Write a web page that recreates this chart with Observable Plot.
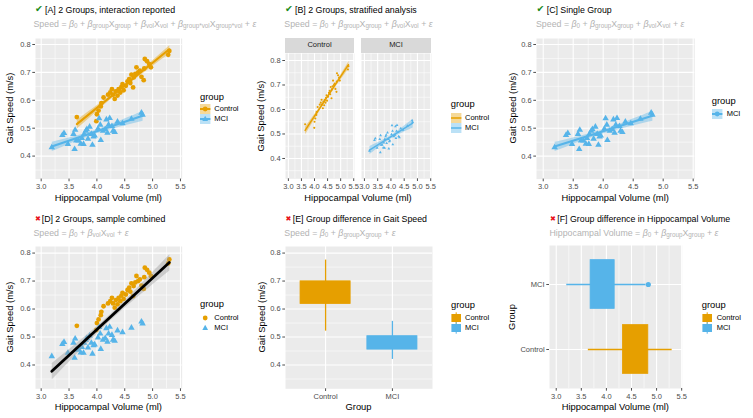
<!DOCTYPE html>
<html><head><meta charset="utf-8">
<script src="https://cdn.jsdelivr.net/npm/d3@7"></script>
<script src="https://cdn.jsdelivr.net/npm/@observablehq/plot@0.6"></script>
<style>
body{margin:0;background:#fff;font-family:"Liberation Sans",Arial,sans-serif;}
#root{position:relative;width:753px;height:418px;overflow:hidden;background:#fff;}
.abs{position:absolute;white-space:nowrap;line-height:1;}
.sub sub{font-size:0.72em;vertical-align:-0.3em;line-height:0;}
svg.p{position:absolute;overflow:visible;}
</style></head><body><div id="root"></div>
<script>
// ---------------- data ----------------
const groups = ["Control", "MCI"];
const colors = ["#E69F00", "#56B4E9"];

const controlVol   = [3.64,3.99,4.00,4.03,4.07,4.08,4.12,4.20,4.24,4.27,4.29,4.32,4.34,4.37,4.39,4.42,4.44,4.46,4.48,4.52,4.55,4.58,4.60,4.62,4.65,4.66,4.69,4.71,4.74,4.77,4.80,4.84,4.85,4.86,4.90,4.94,4.97,5.28,5.30];
const controlSpeed = [0.540,0.525,0.550,0.563,0.578,0.590,0.610,0.620,0.628,0.640,0.620,0.605,0.632,0.617,0.640,0.628,0.648,0.658,0.636,0.652,0.668,0.676,0.662,0.692,0.646,0.682,0.695,0.718,0.700,0.706,0.684,0.672,0.714,0.748,0.740,0.730,0.718,0.763,0.777];

const mciVol   = [3.19,3.38,3.41,3.48,3.58,3.61,3.60,3.63,3.67,3.71,3.73,3.76,3.77,3.80,3.82,3.84,3.87,3.90,3.92,3.94,3.96,4.02,4.04,4.06,4.07,4.11,4.15,4.17,4.19,4.21,4.23,4.27,4.29,4.32,4.37,4.46,4.62,4.80,4.82];
const mciSpeed = [0.431,0.475,0.482,0.443,0.479,0.494,0.425,0.455,0.455,0.444,0.464,0.443,0.479,0.490,0.496,0.462,0.505,0.479,0.440,0.470,0.473,0.498,0.535,0.512,0.457,0.490,0.496,0.531,0.483,0.512,0.536,0.507,0.490,0.486,0.523,0.517,0.533,0.555,0.548];

// box-plot summaries (Control, MCI)
const speedLo = [0.521, 0.420], speedQ1 = [0.618, 0.455], speedQ3 = [0.699, 0.503], speedHi = [0.775, 0.556];
const volLo = [3.64, 3.21], volQ1 = [4.33, 3.685], volQ3 = [4.835, 4.165], volHi = [5.31, 4.79];
const volOutlierGroup = ["MCI"], volOutlierValue = [4.835];

const volTicks = [3.0, 3.5, 4.0, 4.5, 5.0, 5.5];
const volMinor = [3.25, 3.75, 4.25, 4.75, 5.25];
const speedTicks = [0.4, 0.5, 0.6, 0.7, 0.8];
const speedMinor = [0.35, 0.45, 0.55, 0.65, 0.75];

const titles = [
  "[A] 2 Groups, interaction reported", "[B] 2 Groups, stratified analysis", "[C] Single Group",
  "[D] 2 Groups, sample combined", "[E] Group difference in Gait Speed", "[F] Group difference in Hippocampal Volume"
];

// ---------------- helpers ----------------
const root = document.getElementById("root");
const FONT = '"Liberation Sans", Arial, sans-serif';
function txt(html, x, y, {size = 8, color = "#000", anchor = "start", rotate = false, cls = "", font = null} = {}) {
  const d = document.createElement("div");
  d.className = "abs " + cls;
  d.innerHTML = html;
  d.style.left = x + "px"; d.style.top = y + "px";
  d.style.fontSize = size + "px"; d.style.color = color;
  if (font) d.style.fontFamily = font;
  const tx = anchor === "start" ? "0" : anchor === "middle" ? "-50%" : "-100%";
  d.style.transform = `translate(${tx},-50%)` + (rotate ? " rotate(-90deg)" : "");
  root.appendChild(d);
  return d;
}
const control = controlVol.map((v, i) => ({group: "Control", vol: v, speed: controlSpeed[i]}));
const mci = mciVol.map((v, i) => ({group: "MCI", vol: v, speed: mciSpeed[i]}));
const all = control.concat(mci);
const boxSpeed = groups.map((g, i) => ({group: g, pos: i + 1, lo: speedLo[i], q1: speedQ1[i], q3: speedQ3[i], hi: speedHi[i]}));
const boxVol = groups.map((g, i) => ({group: g, pos: i + 1, lo: volLo[i], q1: volQ1[i], q3: volQ3[i], hi: volHi[i]}));
const outliers = volOutlierGroup.map((g, i) => ({group: g, pos: groups.indexOf(g) + 1, vol: volOutlierValue[i]}));

const GRID = {stroke: "white", strokeOpacity: 1};
const AX = {tickSize: 2.7, tickPadding: 2.2, fontSize: 7.5, color: "#4D4D4D", label: null};
const f1 = d => d.toFixed(1);

function plotAt(box, xd, yd, marks, noY = false) {
  const ml = 40, mr = 3, mt = 3, mb = 18;
  const w = box[1] - box[0], h = box[3] - box[2];
  const svg = Plot.plot({
    width: w + ml + mr, height: h + mt + mb,
    marginLeft: ml, marginRight: mr, marginTop: mt, marginBottom: mb,
    x: {domain: xd}, y: noY ? {domain: yd, axis: null} : {domain: yd},
    color: {domain: groups, range: colors},
    symbol: {domain: groups, range: ["circle", "triangle"]},
    style: {background: "transparent", fontFamily: FONT, overflow: "visible"},
    marks
  });
  svg.classList.add("p");
  svg.style.left = (box[0] - ml) + "px";
  svg.style.top = (box[2] - mt) + "px";
  root.appendChild(svg);
}
function scatterBase(withY = true) {
  const m = [
    Plot.frame({fill: "#EBEBEB", stroke: "none"}),
    Plot.gridX({ticks: volMinor, ...GRID, strokeWidth: 0.55}),
    Plot.gridX({ticks: volTicks, ...GRID, strokeWidth: 1.1}),
    Plot.gridY({ticks: speedMinor, ...GRID, strokeWidth: 0.55}),
    Plot.gridY({ticks: speedTicks, ...GRID, strokeWidth: 1.1}),
    Plot.axisX({ticks: volTicks, tickFormat: f1, ...AX})
  ];
  if (withY) m.push(Plot.axisY({ticks: speedTicks, tickFormat: f1, ...AX}));
  return m;
}
function header(i, x, y, good, symX) {
  const sym = good ? "✔" : "✖";
  txt(sym, symX, y, {size: good ? 9.5 : 7, color: good ? "#1A8A1A" : "#E8101A", font: '"DejaVu Sans", sans-serif'});
  txt(titles[i], x, y + 0.3, {size: 8.8});
}
const Bt = "<i>β</i>", S = s => `<sub>${s}</sub>`;
function subtitle(html, x, y) { txt(html, x, y, {size: 8.8, color: "#B3B3B3", cls: "sub"}); }

function legendAt(x0, titleY, keyYs, labelX, keyFn) {
  txt("group", x0, titleY, {size: 9.4, color: "#000"});
  groups.forEach((g, i) => {
    txt(g, labelX, keyYs[i], {size: 7.5, color: "#000"});
    const s = document.createElementNS("http://www.w3.org/2000/svg", "svg");
    s.setAttribute("width", 12); s.setAttribute("height", 12);
    s.setAttribute("class", "p");
    s.style.left = x0 + "px"; s.style.top = (keyYs[i] - 6) + "px";
    s.innerHTML = keyFn(colors[i], i);
    root.appendChild(s);
  });
}
const symSvg = (c, i, r = 2.4) => i === 0
  ? `<circle cx="5.2" cy="6" r="${r}" fill="${c}"/>`
  : `<path d="M5.2,${6 - r * 1.35}L${5.2 - r * 1.2},${6 + r * 0.8}L${5.2 + r * 1.2},${6 + r * 0.8}Z" fill="${c}"/>`;
const bandKey = (c, sw) => `<rect x="0" y="1" width="10.4" height="10" fill="${c}" fill-opacity="0.4"/><line x1="0" x2="10.4" y1="6" y2="6" stroke="${c}" stroke-width="${sw}"/>`;

// ---------------- [A] ----------------
header(0, 45, 9.3, true, 35);
subtitle(`Speed = ${Bt}${S(0)} + ${Bt}${S("group")}X${S("group")} + ${Bt}${S("vol")}X${S("vol")} + ${Bt}${S("group*vol")}X${S("group*vol")} + <i>ε</i>`, 33.5, 24);
plotAt([35, 181.7, 37.7, 178.3], [2.898, 5.531], [0.3176, 0.8215], [
  ...scatterBase(),
  Plot.dot(all, {x: "vol", y: "speed", fill: "group", symbol: "group", r: 2.4}),
  Plot.linearRegressionY(all, {x: "vol", y: "speed", stroke: "group", fill: "group", fillOpacity: 0.4, strokeWidth: 2.1, ci: 0.95})
]);
txt("Gait Speed (m/s)", 10, 108, {size: 9.4, anchor: "middle", rotate: true});
txt("Hippocampal Volume (ml)", 108.3, 197.5, {size: 9.4, anchor: "middle"});
legendAt(200, 96.7, [109.3, 119.3], 214.3, (c, i) => bandKey(c, 2) + symSvg(c, i));

// ---------------- [B] ----------------
header(1, 295, 9.3, true, 285);
subtitle(`Speed = ${Bt}${S(0)} + ${Bt}${S("group")}X${S("group")} + ${Bt}${S("vol")}X${S("vol")} + <i>ε</i>`, 284.3, 24);
const facetBoxes = [[285, 354, 53, 178.3], [361, 431, 53, 178.3]];
[control, mci].forEach((data, k) => {
  const fb = facetBoxes[k];
  const strip = document.createElement("div");
  strip.className = "abs";
  Object.assign(strip.style, {left: fb[0] + "px", top: "38.3px", width: (fb[1] - fb[0]) + "px", height: "14.7px",
    background: "#D9D9D9", color: "#1A1A1A", fontSize: "7.5px", textAlign: "center", lineHeight: "14.7px"});
  strip.textContent = groups[k];
  root.appendChild(strip);
  plotAt(fb, [2.89, 5.53], [0.317, 0.8286], [
    ...scatterBase(k === 0),
    Plot.dot(data, {x: "vol", y: "speed", fill: "group", symbol: "group", r: 1.05}),
    Plot.linearRegressionY(data, {x: "vol", y: "speed", stroke: "group", fill: "group", fillOpacity: 0.4, strokeWidth: 1.5, ci: 0.95})
  ], k !== 0);
});
txt("Gait Speed (m/s)", 261, 115.7, {size: 9.4, anchor: "middle", rotate: true});
txt("Hippocampal Volume (ml)", 358, 197.5, {size: 9.4, anchor: "middle"});
legendAt(450.7, 104.3, [117.7, 127.7], 465, (c) => bandKey(c, 1.5));

// ---------------- [C] ----------------
header(2, 546.7, 9.3, true, 536.5);
subtitle(`Speed = ${Bt}${S(0)} + ${Bt}${S("group")}X${S("group")} + ${Bt}${S("vol")}X${S("vol")} + <i>ε</i>`, 536, 24);
plotAt([536, 694.3, 37.7, 178.3], [2.888, 5.527], [0.3176, 0.8215], [
  ...scatterBase(),
  Plot.dot(mci, {x: "vol", y: "speed", fill: "group", symbol: "group", r: 2.4}),
  Plot.linearRegressionY(mci, {x: "vol", y: "speed", stroke: "group", fill: "group", fillOpacity: 0.4, strokeWidth: 2.1, ci: 0.95})
]);
txt("Gait Speed (m/s)", 512.7, 108, {size: 9.4, anchor: "middle", rotate: true});
txt("Hippocampal Volume (ml)", 615.2, 197.5, {size: 9.4, anchor: "middle"});
(function () {
  txt("group", 711.7, 101, {size: 9.4});
  txt("MCI", 726.7, 114, {size: 7.5});
  const s = document.createElementNS("http://www.w3.org/2000/svg", "svg");
  s.setAttribute("width", 12); s.setAttribute("height", 12); s.setAttribute("class", "p");
  s.style.left = "711.7px"; s.style.top = "108px";
  s.innerHTML = bandKey(colors[1], 2) + symSvg(colors[1], 0);
  root.appendChild(s);
})();

// ---------------- [D] ----------------
header(3, 41.7, 218.5, false, 35);
subtitle(`Speed = ${Bt}${S(0)} + ${Bt}${S("vol")}X${S("vol")} + <i>ε</i>`, 33.5, 233.3);
plotAt([35, 181.7, 245.7, 388], [2.898, 5.531], [0.315, 0.8235], [
  ...scatterBase(),
  Plot.dot(all, {x: "vol", y: "speed", fill: "group", symbol: "group", r: 2.4}),
  Plot.linearRegressionY(all, {x: "vol", y: "speed", stroke: "black", fill: "#999999", fillOpacity: 0.4, strokeWidth: 2.8, ci: 0.95})
]);
txt("Gait Speed (m/s)", 10, 316.9, {size: 9.4, anchor: "middle", rotate: true});
txt("Hippocampal Volume (ml)", 108.3, 406.5, {size: 9.4, anchor: "middle"});
legendAt(200, 304.3, [317.7, 327.7], 214.3, (c, i) => symSvg(c, i));

// ---------------- [E] ----------------
header(4, 292.7, 218.5, false, 285.5);
subtitle(`Speed = ${Bt}${S(0)} + ${Bt}${S("group")}X${S("group")} + <i>ε</i>`, 284.3, 233.3);
plotAt([285, 432, 245.7, 388], [0.4, 2.6], [0.315, 0.8235], [
  Plot.frame({fill: "#EBEBEB", stroke: "none"}),
  Plot.gridX({ticks: [1, 2], ...GRID, strokeWidth: 1.1}),
  Plot.gridY({ticks: speedMinor, ...GRID, strokeWidth: 0.55}),
  Plot.gridY({ticks: speedTicks, ...GRID, strokeWidth: 1.1}),
  Plot.ruleX(boxSpeed, {x: "pos", y1: "lo", y2: "hi", stroke: "group", strokeWidth: 1.3}),
  Plot.rect(boxSpeed, {x1: d => d.pos - 0.375, x2: d => d.pos + 0.375, y1: "q1", y2: "q3", fill: "group", stroke: "group", strokeWidth: 0.8}),
  Plot.axisX({ticks: [1, 2], tickFormat: d => groups[d - 1], ...AX}),
  Plot.axisY({ticks: speedTicks, tickFormat: f1, ...AX})
]);
txt("Gait Speed (m/s)", 262.3, 316.9, {size: 9.4, anchor: "middle", rotate: true});
txt("Group", 358.5, 406.5, {size: 9.4, anchor: "middle"});
const boxKey = (c) => `<rect x="0.4" y="2" width="9.6" height="8" fill="${c}"/><line x1="5.2" x2="5.2" y1="0.3" y2="11.7" stroke="${c}" stroke-width="1"/>`;
legendAt(451, 305, [317.7, 327.5], 465, boxKey);

// ---------------- [F] ----------------
header(5, 557.3, 218.5, false, 550);
subtitle(`Hippocampal Volume = ${Bt}${S(0)} + ${Bt}${S("group")}X${S("group")} + <i>ε</i>`, 549.5, 233.3);
plotAt([549, 681.7, 245, 388], [2.866, 5.51], [0.4, 2.6], [
  Plot.frame({fill: "#EBEBEB", stroke: "none"}),
  Plot.gridX({ticks: volMinor, ...GRID, strokeWidth: 0.55}),
  Plot.gridX({ticks: volTicks, ...GRID, strokeWidth: 1.1}),
  Plot.gridY({ticks: [1, 2], ...GRID, strokeWidth: 1.1}),
  Plot.ruleY(boxVol, {y: "pos", x1: "lo", x2: "hi", stroke: "group", strokeWidth: 1.3}),
  Plot.rect(boxVol, {y1: d => d.pos - 0.375, y2: d => d.pos + 0.375, x1: "q1", x2: "q3", fill: "group", stroke: "group", strokeWidth: 0.8}),
  Plot.dot(outliers, {x: "vol", y: "pos", fill: "group", r: 2.6}),
  Plot.axisX({ticks: volTicks, tickFormat: f1, ...AX}),
  Plot.axisY({ticks: [1, 2], tickFormat: d => groups[d - 1], ...AX})
]);
txt("Group", 511.7, 316.5, {size: 9.4, anchor: "middle", rotate: true});
txt("Hippocampal Volume (ml)", 615.3, 406.5, {size: 9.4, anchor: "middle"});
legendAt(701.7, 305, [317.7, 327.5], 716.7, boxKey);
</script></body></html>
